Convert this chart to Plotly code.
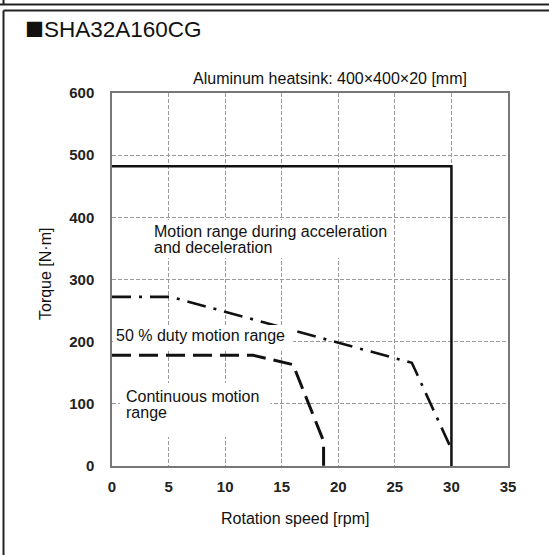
import plotly.graph_objects as go

# Chart data
speed_accel = [0, 30, 30]
torque_accel = [482, 482, 0]

speed_duty = [0, 5.2, 26.5, 30.0]
torque_duty = [272, 272, 166, 27]

speed_cont = [0, 12.5, 16.0, 18.7, 18.7]
torque_cont = [178, 178, 163, 40, 0]

x_ticks = [0, 5, 10, 15, 20, 25, 30, 35]
y_ticks = [0, 100, 200, 300, 400, 500, 600]

# Page geometry in pixels
W, H = 549, 555
L, R, T, B = 112, 41, 93, 89
PW, PH = W - L - R, H - T - B


def px_x(px):
    """ Convert a page pixel x into paper coordinates """
    return (px - L) / PW


def px_y(py):
    """ Convert a page pixel y into paper coordinates """
    return (H - B - py) / PH


TXT = 'Liberation Sans, Arial, sans-serif'
TICK = 'Liberation Sans, Arial, sans-serif'

fig = go.Figure()
fig.add_trace(go.Scatter(x=speed_cont, y=torque_cont, mode='lines',
                         line={'color': '#111', 'width': 3, 'dash': '19px,8px'}))
fig.add_trace(go.Scatter(x=speed_duty, y=torque_duty, mode='lines',
                         line={'color': '#111', 'width': 2.6, 'dash': '19px,8px,3px,8px'}))
fig.add_trace(go.Scatter(x=speed_accel, y=torque_accel, mode='lines',
                         line={'color': '#111', 'width': 2.5}))

grid = dict(showgrid=True, gridcolor='#9a9a9a', gridwidth=1, griddash='4px,2px',
            showline=True, linecolor='#777', linewidth=1.5, mirror=True,
            zeroline=False, ticks='',
            tickfont={'family': TICK, 'size': 15, 'color': '#222', 'weight': 'bold'})

fig.update_xaxes(range=[0, 35], tickvals=x_ticks, ticklabelstandoff=6, **grid)
fig.update_yaxes(range=[0, 600], tickvals=y_ticks, ticklabelstandoff=13, **grid)

# White boxes behind the in-plot labels
boxes = [(3.3, 334.6, 24.4, 395.7), (0.1, 188.0, 16.0, 227.0), (0.7, 46.6, 14.0, 133.5)]
shapes = [dict(type='rect', xref='x', yref='y', x0=a, y0=b, x1=c, y1=d,
               fillcolor='white', line={'width': 0}, layer='above') for a, b, c, d in boxes]

# Outer frames
frame = dict(type='line', xref='paper', yref='paper', line={'color': '#222', 'width': 2})
shapes += [
    dict(frame, x0=px_x(0), x1=px_x(W), y0=px_y(4.5), y1=px_y(4.5)),
    dict(frame, x0=px_x(3.5), x1=px_x(3.5), y0=px_y(0), y1=px_y(4.5)),
    dict(frame, x0=px_x(3.5), x1=px_x(W), y0=px_y(10.5), y1=px_y(10.5)),
    dict(frame, x0=px_x(3.5), x1=px_x(3.5), y0=px_y(10.5), y1=px_y(H)),
]

f16 = {'family': TXT, 'size': 16, 'color': '#111'}
ann = [
    dict(text='<span style="font-family:Noto Sans CJK JP;font-size:19px">■</span>SHA32A160CG',
         x=px_x(23), y=px_y(28.5), xref='paper', yref='paper',
         xanchor='left', yanchor='middle', showarrow=False,
         font={'family': TXT, 'size': 22.5, 'color': '#111'}),
    dict(text='Aluminum heatsink: 400×400×20 [mm]', x=px_x(330), y=px_y(78.5),
         xref='paper', yref='paper', xanchor='center', yanchor='middle',
         showarrow=False, font=f16),
    dict(text='Torque [N·m]', x=px_x(45), y=px_y(274), xref='paper', yref='paper',
         xanchor='center', yanchor='middle', textangle=-90, showarrow=False, font=f16),
    dict(text='Rotation speed [rpm]', x=px_x(295), y=px_y(518), xref='paper', yref='paper',
         xanchor='center', yanchor='middle', showarrow=False, font=f16),
    dict(text='Motion range during acceleration', x=3.55, y=376.9, xanchor='left',
         yanchor='middle', showarrow=False, font=f16),
    dict(text='and deceleration', x=3.55, y=351.6, xanchor='left',
         yanchor='middle', showarrow=False, font=f16),
    dict(text='50 % duty motion range', x=0.15, y=209.6, xanchor='left',
         yanchor='middle', showarrow=False, font=f16),
    dict(text='Continuous motion', x=1.05, y=111.5, xanchor='left',
         yanchor='middle', showarrow=False, font=f16),
    dict(text='range', x=1.05, y=86.2, xanchor='left',
         yanchor='middle', showarrow=False, font=f16),
]

fig.update_layout(width=W, height=H, margin={'l': L, 'r': R, 't': T, 'b': B},
                  paper_bgcolor='white', plot_bgcolor='white', showlegend=False,
                  shapes=shapes, annotations=ann)

# Drop the page's default body margin so the figure sits at the window's corner
fig.write_html('out.html', config={'displayModeBar': False},
               post_script="document.body.style.margin='0';")
